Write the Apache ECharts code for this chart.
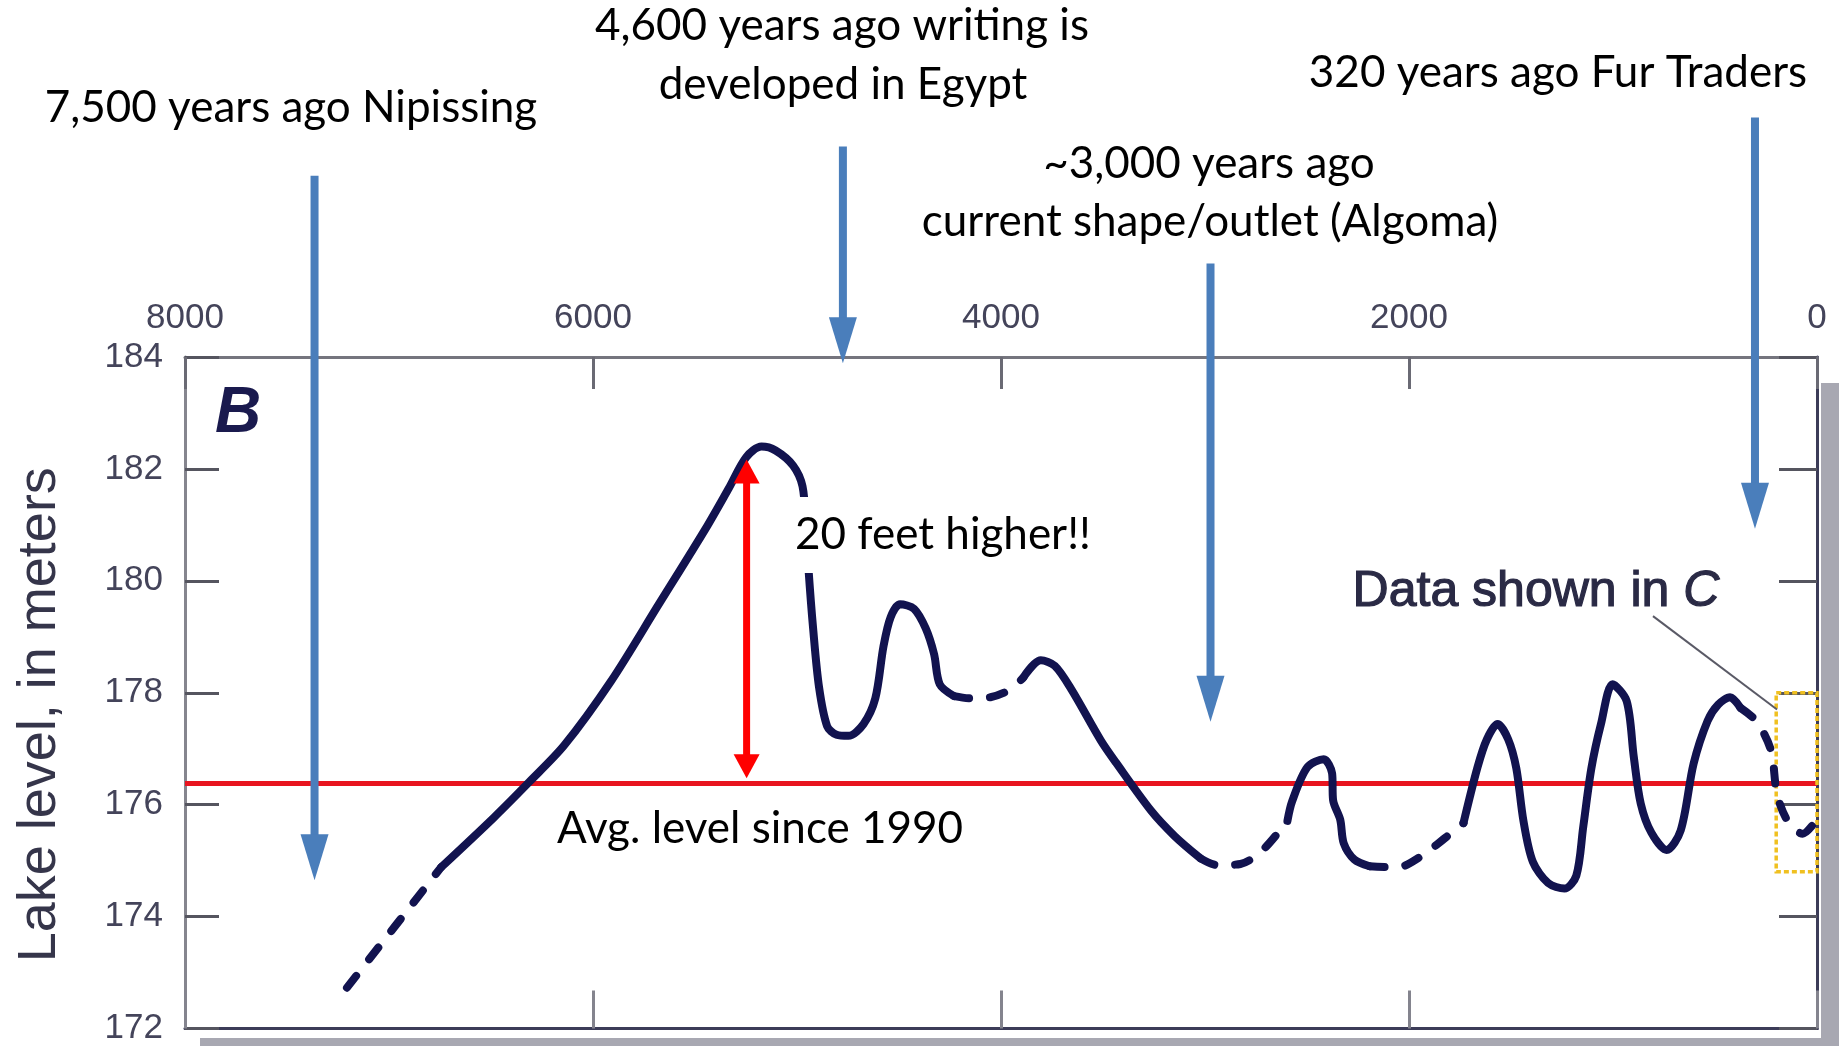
<!DOCTYPE html>
<html><head><meta charset="utf-8">
<script src="https://cdn.jsdelivr.net/npm/echarts@6/dist/echarts.min.js"></script>
<style>html,body{margin:0;padding:0;background:#fff}#c{width:1841px;height:1046px}</style>
</head><body><div id="c"></div>
<script>
// ---- axis ticks ----
const xTickValues = [8000, 6000, 4000, 2000, 0];      // years before present
const yTickValues = [172, 174, 176, 178, 180, 182, 184]; // lake level, m

// ---- lake-level curve (years ago, metres), split into solid / dashed pieces ----
const segA_dashed = [[7206,172.73],[6745,174.88]];
const segB_solid = [[6745,174.88],[6486,175.77],[6314,176.40],[6141,177.06],[5911,178.21],[5681,179.56],[5450,180.92],[5335,181.65],[5249,182.21],[5174,182.40],[5105,182.33],[5019,182.06],[4973,181.69],[4956,180.98],[4944,180.23],[4921,179.15],[4892,178.10],[4852,177.40],[4806,177.25],[4748,177.23],[4674,177.44],[4616,177.90],[4576,178.83],[4541,179.35],[4495,179.58],[4426,179.50],[4369,179.15],[4328,178.69],[4300,178.15],[4230,177.94]];
const segC_dashed = [[4230,177.94],[4150,177.90],[4052,177.92],[3954,178.06],[3891,178.27]];
const segD_solid = [[3891,178.27],[3805,178.58],[3736,178.48],[3655,178.06],[3511,177.15],[3436,176.75],[3266,175.90],[3149,175.44],[3022,175.04]];
const segE_dashed = [[3022,175.04],[2941,174.92],[2826,174.94],[2717,175.19],[2596,175.71]];
const segF_solid = [[2596,175.71],[2573,176.06],[2498,176.67],[2418,176.81],[2377,176.56],[2372,176.08],[2337,175.73],[2320,175.31],[2268,175.02],[2193,174.90]];
const segG_dashed = [[2193,174.90],[2055,174.88],[1940,175.08],[1825,175.40],[1733,175.67]];
const segH_solid = [[1733,175.67],[1664,176.67],[1618,177.17],[1566,177.44],[1514,177.17],[1474,176.65],[1439,175.71],[1393,174.98],[1318,174.60],[1238,174.50],[1180,174.73],[1146,175.60],[1106,176.65],[1059,177.44],[1002,178.15],[933,177.85],[898,176.85],[864,176.02],[812,175.50],[737,175.19],[668,175.54],[605,176.73],[536,177.50],[484,177.79],[426,177.92],[375,177.73]];
const segI_dashed = [[375,177.73],[294,177.48],[225,176.96],[196,176.19],[144,175.71],[70,175.48],[18,175.65]];

// ---- reference level ----
const avgLevel = 176.38;

// ---- annotation arrows (year, top level, tip level) ----
const eventYears     = [7365, 4775, 2973, 304];
const eventTopLevel  = [187.24, 187.76, 185.67, 188.28];
const eventTipLevel  = [174.65, 183.89, 177.48, 180.93];
const eventLabels = [
  ['7,500 years ago Nipissing'],
  ['4,600 years ago writing is', 'developed in Egypt'],
  ['~3,000 years ago', 'current shape/outlet (Algoma)'],
  ['320 years ago Fur Traders']
];
// double arrow: peak vs. average
const diffArrow = [[5247, 182.17, 176.47]];
// "Data shown in C" box (year from, year to, level from, level to) and leader line
const boxC = [[200, 0, 174.8, 178.0]];
const leaderC = [[804, 179.37, 196, 177.7]];

const NAVY = '#12134f';
const BLUE = '#4a7ebb';
const CAL = 'Lato, "Open Sans", sans-serif';
const HELV = '"Liberation Sans", Arial, sans-serif';

function lineSeries(data, dashed) {
  return {
    type: 'line', data: data, smooth: 0.3, symbol: 'none', z: 5, silent: true,
    lineStyle: dashed
      ? { color: NAVY, width: 8, type: [15, 21], cap: 'round', join: 'round' }
      : { color: NAVY, width: 8, type: 'solid', cap: 'round', join: 'round' }
  };
}

const chart = echarts.init(document.getElementById('c'), null, { renderer: 'canvas' });

const xMin = Math.min(...xTickValues), xMax = Math.max(...xTickValues);
const yMin = Math.min(...yTickValues), yMax = Math.max(...yTickValues);
const xInt = xTickValues[0] - xTickValues[1];
const yInt = yTickValues[1] - yTickValues[0];

const labelStyle = { fontFamily: HELV, fontSize: 35, color: '#44445a', formatter: v => String(v) };

const option = {
  animation: false,
  backgroundColor: '#ffffff',
  grid: { left: 185, right: 24, top: 357, height: 679, containLabel: false },
  xAxis: [
    { type: 'value', position: 'top', inverse: true, min: xMin, max: xMax, interval: xInt,
      axisLine: { show: true, onZero: false, lineStyle: { color: '#75757e', width: 3 } },
      axisTick: { show: true, inside: true, length: 32, lineStyle: { color: '#6a6a74', width: 3 } },
      axisLabel: Object.assign({ margin: 21 }, labelStyle),
      splitLine: { show: false } },
    { type: 'value', position: 'bottom', inverse: true, min: xMin, max: xMax, interval: xInt,
      axisLine: { show: true, onZero: false, lineStyle: { color: '#3c3c58', width: 3 } },
      axisTick: { show: true, inside: true, length: 38, lineStyle: { color: '#84848e', width: 3 } },
      axisLabel: { show: false }, splitLine: { show: false } }
  ],
  yAxis: [
    { type: 'value', position: 'left', min: yMin, max: yMax, interval: yInt,
      name: 'Lake level, in meters', nameLocation: 'middle', nameGap: 118,
      nameTextStyle: { fontFamily: HELV, fontSize: 54, color: '#35354a', padding: [0, 44, 0, 0] },
      axisLine: { show: true, onZero: false, lineStyle: { color: '#85858e', width: 3 } },
      axisTick: { show: true, inside: true, length: 34, lineStyle: { color: '#55555f', width: 3 } },
      axisLabel: Object.assign({ margin: 22 }, labelStyle),
      splitLine: { show: false } },
    { type: 'value', position: 'right', min: yMin, max: yMax, interval: yInt,
      axisLine: { show: true, onZero: false, lineStyle: { color: '#3c3c58', width: 3 } },
      axisTick: { show: true, inside: true, length: 38, lineStyle: { color: '#55555f', width: 3 } },
      axisLabel: { show: false }, splitLine: { show: false } }
  ],
  graphic: [
    // scanned drop shadow of the original figure
    { type: 'rect', z: 1, shape: { x: 1821, y: 383, width: 18, height: 663 }, style: { fill: '#a8a8b2' } },
    { type: 'rect', z: 1, shape: { x: 200, y: 1038, width: 1639, height: 8 }, style: { fill: '#a8a8b2' } },
    // panel letter
    { type: 'text', z: 50, left: 215, top: 382, style: { text: 'B', font: 'italic bold 64px "Liberation Sans", Arial', fill: '#1a1a4e' } },
    // annotation texts
    { type: 'text', z: 50, x: 291, y: 108, style: { text: eventLabels[0][0], font: '44px ' + CAL, fill: '#000', align: 'center', verticalAlign: 'middle' } },
    { type: 'text', z: 50, x: 842, y: 26, style: { text: eventLabels[1][0], font: '44px ' + CAL, fill: '#000', align: 'center', verticalAlign: 'middle' } },
    { type: 'text', z: 50, x: 843, y: 85, style: { text: eventLabels[1][1], font: '44px ' + CAL, fill: '#000', align: 'center', verticalAlign: 'middle' } },
    { type: 'text', z: 50, x: 1209, y: 164, style: { text: eventLabels[2][0], font: '44px ' + CAL, fill: '#000', align: 'center', verticalAlign: 'middle' } },
    { type: 'text', z: 50, x: 1210, y: 222, style: { text: eventLabels[2][1], font: '44px ' + CAL, fill: '#000', align: 'center', verticalAlign: 'middle' } },
    { type: 'text', z: 50, x: 1558, y: 73, style: { text: eventLabels[3][0], font: '44px ' + CAL, fill: '#000', align: 'center', verticalAlign: 'middle' } },
    { type: 'text', z: 50, x: 785, y: 535, style: { text: '20 feet higher!!', font: '44px ' + CAL, fill: '#000', align: 'left', verticalAlign: 'middle', backgroundColor: '#fff', padding: [16, 8, 16, 10] } },
    { type: 'text', z: 50, x: 760, y: 829, style: { text: 'Avg. level since 1990', font: '44px ' + CAL, fill: '#000', align: 'center', verticalAlign: 'middle' } },
    { type: 'text', z: 50, x: 1536, y: 592, style: { text: 'Data shown in {i|C}', font: '50px ' + HELV, fill: '#2a2a45', stroke: '#2a2a45', lineWidth: 1.2, align: 'center', verticalAlign: 'middle',
        rich: { i: { fontStyle: 'italic', fontSize: 50, fontFamily: HELV, fill: '#2a2a45' } } } }
  ],
  series: [
    { type: 'line', name: 'avg', data: [[xMax, avgLevel], [xMin, avgLevel]], symbol: 'none', z: 3, silent: true,
      lineStyle: { color: '#e8141f', width: 5 } },
    lineSeries(segA_dashed, true),
    lineSeries(segB_solid, false),
    lineSeries(segC_dashed, true),
    lineSeries(segD_solid, false),
    lineSeries(segE_dashed, true),
    lineSeries(segF_solid, false),
    lineSeries(segG_dashed, true),
    lineSeries(segH_solid, false),
    lineSeries(segI_dashed, true),
    // yellow box + leader line
    { type: 'custom', z: 4, clip: false, silent: true, data: boxC,
      renderItem: function (params, api) {
        const a = api.coord([api.value(0), api.value(3)]);
        const b = api.coord([api.value(1), api.value(2)]);
        return { type: 'rect', shape: { x: a[0], y: a[1], width: b[0] - a[0], height: b[1] - a[1] },
          style: { fill: null, stroke: '#f0c020', lineWidth: 3.5, lineDash: [5, 3] } };
      } },
    { type: 'custom', z: 4, clip: false, silent: true, data: leaderC,
      renderItem: function (params, api) {
        const a = api.coord([api.value(0), api.value(1)]);
        const b = api.coord([api.value(2), api.value(3)]);
        return { type: 'line', shape: { x1: a[0], y1: a[1], x2: b[0], y2: b[1] }, style: { stroke: '#5a5a66', lineWidth: 2 } };
      } },
    // blue event arrows
    { type: 'custom', z: 20, clip: false, silent: true,
      data: eventYears.map((y, i) => [y, eventTopLevel[i], eventTipLevel[i]]),
      renderItem: function (params, api) {
        const p0 = api.coord([api.value(0), api.value(1)]);
        const p1 = api.coord([api.value(0), api.value(2)]);
        const hl = 46, hw = 28;
        return { type: 'group', children: [
          { type: 'line', shape: { x1: p0[0], y1: p0[1], x2: p1[0], y2: p1[1] - hl + 2 }, style: { stroke: BLUE, lineWidth: 8 } },
          { type: 'polygon', shape: { points: [[p1[0] - hw / 2, p1[1] - hl], [p1[0] + hw / 2, p1[1] - hl], [p1[0], p1[1]]] }, style: { fill: BLUE } }
        ] };
      } },
    // red double-headed arrow
    { type: 'custom', z: 20, clip: false, silent: true, data: diffArrow,
      renderItem: function (params, api) {
        const p0 = api.coord([api.value(0), api.value(1)]);
        const p1 = api.coord([api.value(0), api.value(2)]);
        const hl = 24, hw = 26, c = '#ff0000';
        return { type: 'group', children: [
          { type: 'line', shape: { x1: p0[0], y1: p0[1] + hl - 2, x2: p1[0], y2: p1[1] - hl + 2 }, style: { stroke: c, lineWidth: 7 } },
          { type: 'polygon', shape: { points: [[p0[0] - hw / 2, p0[1] + hl], [p0[0] + hw / 2, p0[1] + hl], [p0[0], p0[1]]] }, style: { fill: c } },
          { type: 'polygon', shape: { points: [[p1[0] - hw / 2, p1[1] - hl], [p1[0] + hw / 2, p1[1] - hl], [p1[0], p1[1]]] }, style: { fill: c } }
        ] };
      } }
  ]
};
chart.setOption(option);
</script>
</body></html>
